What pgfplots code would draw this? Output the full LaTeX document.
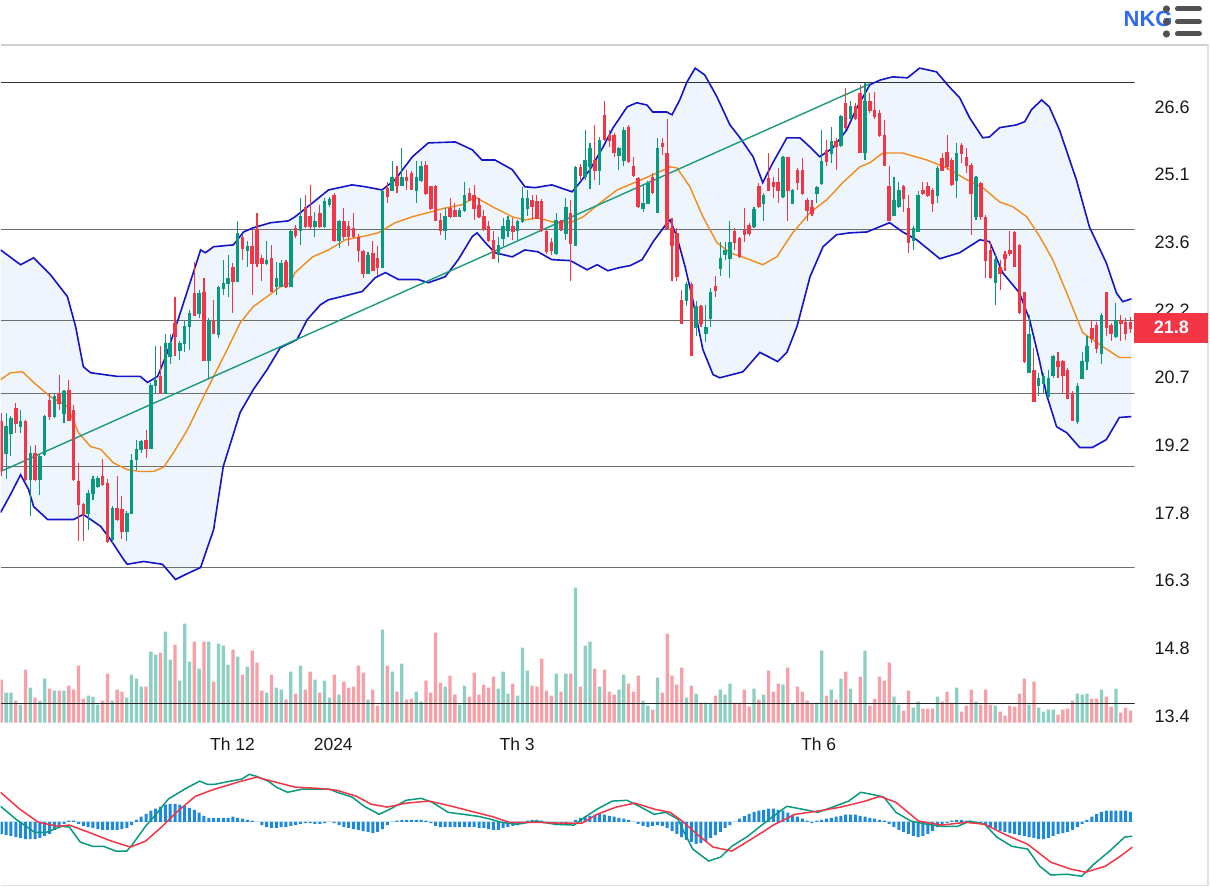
\documentclass[border=0pt]{standalone}
\usepackage{pgfplots}
\pgfplotsset{compat=1.18}
\usepackage{pgfplotstable}
\usepackage{fontspec}
\setmainfont{Liberation Sans}

\definecolor{cgreen}{HTML}{089981}
\definecolor{cred}{HTML}{F23645}
\definecolor{vgreen}{HTML}{8CCFC3}
\definecolor{vred}{HTML}{F7A0A8}
\definecolor{bband}{HTML}{1414C8}
\definecolor{bfill}{HTML}{EEF5FC}
\definecolor{sma}{HTML}{F28A1C}
\definecolor{trend}{HTML}{1A9A7C}
\definecolor{hblue}{HTML}{1E88DC}
\definecolor{nkg}{HTML}{2F6BF0}
\definecolor{lvl}{HTML}{6E6E6E}

\pgfplotstableread{
i O H L C V
0 19.79 19.97 18.60 18.74 43
1 19.10 19.97 18.53 19.68 30
2 19.54 19.90 19.03 19.86 30
3 20.08 20.19 19.54 19.75 22
4 19.68 20.04 19.54 19.79 18
5 19.79 19.82 18.49 18.53 53
6 18.53 19.25 17.73 19.10 35
7 19.10 19.28 18.49 18.53 25
8 18.53 19.07 18.20 19.03 22
9 19.07 19.93 19.03 19.90 44
10 20.26 20.37 19.82 19.90 34
11 19.90 20.37 19.86 20.33 32
12 20.40 20.80 20.04 20.19 32
13 19.97 20.47 19.75 20.44 32
14 20.47 20.69 19.79 19.82 37
15 20.04 20.15 18.49 18.53 33
16 18.49 18.89 17.19 17.99 57
17 17.99 18.02 17.19 17.77 24
18 17.80 18.31 17.44 18.24 27
19 18.24 18.60 18.09 18.53 26
20 18.38 18.61 18.35 18.56 18
21 18.60 18.98 18.38 18.42 22
22 18.45 18.53 17.16 17.19 49
23 17.23 17.95 17.16 17.91 22
24 17.91 18.60 17.62 17.66 33
25 17.88 18.17 17.23 17.41 31
26 17.41 17.84 17.19 17.80 25
27 17.80 19.07 17.77 18.96 48
28 18.96 19.39 18.74 19.18 44
29 19.18 19.39 19.10 19.36 36
30 19.39 19.61 18.99 19.21 36
31 19.21 20.62 19.19 20.58 71
32 20.58 21.41 20.40 20.69 68
33 20.76 21.41 20.39 20.40 70
34 20.40 21.67 20.39 21.49 91
35 21.20 21.67 21.02 21.49 63
36 21.92 22.49 21.20 21.63 78
37 21.34 21.52 21.12 21.49 42
38 21.49 21.99 21.30 21.85 99
39 21.85 22.21 21.34 22.13 61
40 22.57 23.25 22.06 22.10 81
41 22.13 22.64 22.03 22.57 54
42 22.60 22.89 21.09 21.12 81
43 21.12 22.03 20.73 21.99 81
44 21.99 22.42 21.67 21.70 41
45 21.67 22.73 21.59 22.70 79
46 22.67 23.29 22.53 22.78 77
47 22.78 23.40 22.49 22.89 58
48 23.14 23.22 22.13 22.82 73
49 22.82 24.12 22.80 23.86 66
50 23.79 23.83 23.29 23.54 48
51 23.50 23.69 23.14 23.58 56
52 23.58 23.94 22.53 23.22 72
53 23.94 24.30 23.14 23.22 60
54 23.32 23.40 22.82 23.22 32
55 23.22 23.69 23.18 23.29 30
56 23.32 23.61 22.58 22.60 48
57 22.71 23.25 22.53 22.89 35
58 22.71 23.29 22.70 23.22 33
59 23.25 23.29 22.67 22.71 23
60 22.71 23.94 22.70 23.90 51
61 23.97 24.05 23.76 23.83 29
62 23.94 24.62 23.61 24.23 57
63 24.44 24.69 23.97 24.01 33
64 24.23 24.91 23.94 24.01 51
65 24.01 24.33 23.79 24.12 43
66 24.30 24.48 23.97 24.01 30
67 24.01 24.62 23.97 24.57 42
68 24.50 24.64 24.43 24.60 25
69 24.69 24.73 23.68 23.72 48
70 23.72 24.15 23.54 24.12 28
71 24.12 24.41 23.72 23.79 41
72 24.01 24.12 23.58 23.79 35
73 23.97 24.30 23.76 23.79 36
74 23.79 23.85 23.25 23.50 57
75 23.47 23.50 22.89 23.00 50
76 23.01 23.45 22.98 23.40 23
77 23.43 23.69 23.04 23.07 33
78 23.32 23.58 22.93 23.14 17
79 23.14 24.80 23.11 24.77 93
80 24.84 24.98 24.51 24.66 57
81 24.80 25.42 24.77 25.09 51
82 25.09 25.31 24.73 24.91 31
83 24.91 25.70 24.88 25.09 59
84 25.09 25.24 24.80 25.02 23
85 25.16 25.22 24.79 24.82 24
86 24.80 25.42 24.51 25.09 31
87 25.02 25.42 24.98 25.31 21
88 25.34 25.42 24.69 24.73 42
89 24.88 24.89 24.37 24.41 30
90 24.88 24.91 24.12 24.15 90
91 24.15 24.30 23.83 23.94 40
92 23.94 24.41 23.72 24.23 36
93 24.41 24.62 24.19 24.23 47
94 24.36 24.51 24.21 24.23 28
95 24.24 24.41 24.21 24.36 18
96 24.37 24.98 24.33 24.69 37
97 24.73 24.84 24.55 24.59 26
98 24.69 24.91 24.15 24.41 50
99 24.48 24.62 24.19 24.23 28
100 24.23 24.37 23.90 23.97 38
101 24.01 24.12 23.68 23.72 35
102 23.72 23.90 23.30 23.32 46
103 23.40 23.79 23.22 23.61 34
104 23.76 24.19 23.58 24.01 51
105 23.94 24.23 23.79 24.15 29
106 24.01 24.19 23.72 23.90 39
107 23.94 24.15 23.72 24.12 27
108 24.12 24.87 24.08 24.62 75
109 24.41 24.80 24.23 24.62 52
110 24.59 24.69 24.15 24.44 37
111 24.55 24.69 24.17 24.19 36
112 24.57 24.60 23.88 23.92 64
113 23.90 23.94 23.42 23.47 32
114 23.68 23.76 23.40 23.50 27
115 23.43 24.30 23.40 24.15 49
116 24.12 24.15 23.90 23.97 31
117 23.86 24.62 23.72 24.44 49
118 24.30 24.59 22.82 23.65 49
119 23.61 25.32 23.59 25.29 135
120 25.29 25.37 25.00 25.13 36
121 25.09 26.10 25.02 25.45 77
122 25.31 25.81 24.82 25.70 81
123 25.45 26.21 25.02 25.24 54
124 25.24 25.94 24.91 25.89 36
125 26.43 26.72 25.85 25.90 53
126 25.99 26.10 25.73 25.89 31
127 25.99 26.04 25.52 25.63 28
128 25.56 25.73 25.24 25.70 33
129 25.45 26.17 25.31 26.10 48
130 26.17 26.21 25.39 25.42 39
131 25.31 25.52 25.09 25.13 31
132 25.06 25.09 24.41 24.44 47
133 24.41 24.91 24.33 24.51 22
134 24.51 25.00 24.50 24.95 17
135 25.08 25.16 24.72 24.75 13
136 24.33 25.92 24.31 25.70 45
137 25.81 25.92 25.56 25.76 30
138 25.60 26.33 23.94 23.97 89
139 23.97 24.19 22.82 23.61 47
140 23.87 23.97 22.82 22.93 38
141 22.42 22.64 21.90 21.92 55
142 22.42 22.80 22.28 22.77 25
143 22.77 22.80 21.20 21.23 37
144 21.84 22.39 21.63 22.28 29
145 22.29 22.31 21.84 21.92 20
146 21.70 22.31 21.50 21.84 20
147 22.03 22.67 21.84 22.60 19
148 22.71 22.93 22.49 22.63 27
149 23.11 23.68 22.93 23.32 33
150 23.42 23.68 23.29 23.50 28
151 23.32 24.12 22.89 23.68 39
152 23.90 23.97 23.50 23.68 20
153 23.76 23.79 23.32 23.37 20
154 23.94 24.41 23.68 23.85 33
155 24.05 24.08 23.81 23.87 16
156 24.01 24.44 23.97 24.38 34
157 24.88 24.95 24.41 24.44 23
158 24.51 24.73 24.12 24.69 28
159 25.06 25.60 24.77 24.80 52
160 24.98 25.09 24.62 24.88 31
161 24.98 25.27 24.51 24.80 39
162 24.66 25.54 24.62 25.51 38
163 25.51 25.52 24.12 24.80 55
164 24.51 24.82 24.50 24.79 19
165 25.24 25.27 24.80 24.98 36
166 25.24 25.49 24.69 24.73 31
167 24.59 24.62 24.12 24.37 22
168 24.44 24.59 24.23 24.30 19
169 24.73 24.89 24.51 24.86 20
170 24.95 26.10 24.91 25.42 72
171 25.67 25.89 25.31 25.42 27
172 25.60 26.17 25.38 25.85 33
173 25.85 25.92 25.24 25.74 23
174 25.78 26.43 25.73 26.41 44
175 26.68 27.00 26.10 26.17 51
176 26.35 26.72 26.32 26.61 34
177 26.61 26.68 26.32 26.35 19
178 26.90 27.08 25.61 25.63 46
179 25.63 27.11 25.45 26.72 72
180 26.72 26.90 26.46 26.54 17
181 26.54 26.93 26.33 26.39 24
182 26.46 26.54 25.94 25.99 46
183 25.99 26.32 25.31 25.34 42
184 24.89 25.32 24.12 24.15 60
185 24.26 25.09 24.23 24.59 26
186 24.44 24.98 24.41 24.80 18
187 24.88 24.91 24.33 24.62 12
188 24.41 24.69 23.43 23.68 32
189 23.72 24.01 23.50 23.97 15
190 23.90 24.77 23.88 24.69 21
191 24.80 24.98 24.69 24.73 14
192 24.88 24.98 24.64 24.69 14
193 24.80 24.84 24.33 24.51 14
194 24.69 25.32 24.51 25.27 26
195 25.49 25.60 25.20 25.24 21
196 25.63 25.99 25.24 25.31 31
197 25.45 25.49 24.89 24.93 20
198 25.02 25.81 24.62 25.60 35
199 25.78 25.81 25.38 25.60 11
200 25.52 25.70 25.16 25.34 17
201 25.34 25.38 23.83 24.73 33
202 24.23 25.11 24.15 25.08 21
203 24.95 24.98 24.15 24.23 18
204 24.21 24.26 22.89 23.29 33
205 23.50 23.68 22.87 22.91 18
206 22.80 23.39 22.31 23.30 17
207 23.14 23.29 22.64 23.00 11
208 23.42 23.47 23.04 23.32 7
209 23.50 23.90 23.36 23.43 17
210 23.89 23.90 23.14 23.16 16
211 23.61 23.63 22.12 22.15 29
212 22.59 22.60 21.05 21.09 44
213 20.85 22.10 20.83 21.69 18
214 20.91 21.38 20.20 20.22 41
215 20.58 20.83 20.33 20.73 15
216 20.62 20.83 20.40 20.76 11
217 20.33 20.91 20.29 20.73 13
218 20.80 21.23 20.73 21.20 13
219 21.09 21.28 20.73 20.98 8
220 21.09 21.12 20.40 20.80 13
221 20.91 20.94 20.29 20.29 14
222 20.40 20.44 19.81 19.82 22
223 19.79 20.62 19.72 20.56 29
224 20.73 21.30 20.70 21.09 28
225 21.09 21.63 20.91 21.41 29
226 21.81 21.99 21.48 21.59 24
227 21.88 21.95 21.27 21.38 24
228 21.27 22.13 21.02 22.10 33
229 22.59 22.60 21.63 21.84 26
230 21.88 21.92 21.52 21.70 16
231 21.63 22.35 21.59 21.99 34
232 21.99 22.10 21.52 21.92 10
233 21.95 22.02 21.56 21.70 15
234 21.95 22.05 21.70 21.80 12
}\candles

\pgfplotstableread{
i p
-0.15 23.50
4 23.18
6.7 23.33
10.2 22.96
13.7 22.49
15.4 21.84
17 20.97
18.5 20.84
24.1 20.76
28.8 20.76
30.3 20.63
32.4 20.76
34.4 21.28
37.1 22.14
40.2 23.14
41.3 23.50
42.3 23.44
44 23.57
48.1 23.61
50.2 23.89
52.2 23.98
55.8 24.09
59.5 24.13
60.9 24.22
64.5 24.52
67.8 24.80
72.7 24.91
75.4 24.87
78.9 24.80
81.6 25.02
85.2 25.52
88.5 25.82
94.1 25.84
97.6 25.67
99.6 25.45
102.3 25.45
105.9 25.24
108.5 24.87
110.6 24.85
114.1 24.91
118.3 24.76
119.9 24.96
122 25.24
124.7 25.73
126.8 26.15
129.7 26.60
131.7 26.69
133.8 26.64
135 26.49
137.9 26.49
139 26.43
140.6 26.75
142.1 27.14
143.8 27.44
145.8 27.29
148.3 26.82
151 26.21
153.1 25.93
155.8 25.52
157.8 24.96
159.9 25.39
162.8 25.93
165.5 25.93
167.6 25.73
169.6 25.52
172.3 25.71
175.2 26.10
177.3 26.58
180 27.08
182.1 27.18
184.7 27.25
187.8 27.23
190.3 27.44
193.8 27.36
196.5 27.03
198.6 26.80
200.7 26.36
203.4 25.93
204.8 25.95
206.9 26.15
210.4 26.21
212.1 26.28
213.5 26.54
215.6 26.75
217.2 26.60
219.3 26.10
222.8 25.02
225.5 24.00
229 23.22
231.1 22.57
232.4 22.38
234.2 22.44
}\bbup

\pgfplotstableread{
i p
-0.15 17.81
1.9 18.20
4 18.63
5.65 18.31
6.7 17.94
9.6 17.66
15 17.66
17 17.77
20.6 17.51
22.6 17.23
25.3 16.80
26.1 16.69
29.5 16.75
33.4 16.69
36.1 16.36
38.2 16.47
41.3 16.62
44 17.44
46 18.81
49.5 19.98
52.2 20.47
55.1 20.91
57.8 21.38
61.3 21.56
63.4 21.99
66.1 22.31
67.8 22.42
71.3 22.51
74.8 22.60
77.5 22.90
79.6 23.01
82.3 22.86
86.4 22.86
88.5 22.79
92 22.92
94.7 23.29
97.6 23.79
98.6 23.87
100.3 23.66
102.3 23.44
105.9 23.35
108.5 23.50
111.2 23.46
114.1 23.29
117.9 23.27
121.4 23.07
123.5 23.18
125.7 23.05
128.2 23.12
130.3 23.16
132.8 23.29
135.1 23.68
138 24.09
138.6 24.15
140 23.79
141.7 23.14
143.3 22.42
145.4 21.34
147.5 20.80
148.9 20.73
153.7 20.86
157.2 21.28
159.3 21.17
160.9 21.08
162.8 21.28
164.9 21.84
167.6 22.92
170.3 23.57
173.1 23.83
175.8 23.87
179.4 23.89
184.1 24.09
186.8 23.89
189.7 23.72
194.5 23.31
198.6 23.44
202.8 23.72
204.8 23.68
207.5 23.01
211 22.57
213.1 21.99
215.2 21.08
216.6 20.37
218.7 19.67
220.8 19.54
223.5 19.22
226.1 19.22
229 19.39
231.7 19.87
234.2 19.89
}\bblo

\pgfplotstableread{
i p
-0.15 20.69
1.9 20.84
4.4 20.86
6.7 20.63
10.2 20.32
13.7 20.11
16 19.54
18.5 19.24
20.6 19.18
23.2 18.89
26.1 18.74
28.8 18.70
31.5 18.70
33.6 18.79
35.7 19.11
38.6 19.61
41.3 20.19
44 20.76
46.8 21.34
49.5 21.92
52.2 22.27
55.1 22.49
57.8 22.70
59.9 22.79
60.9 23.01
64.5 23.35
67.8 23.50
71.3 23.72
74.8 23.79
78.1 23.87
81.6 24.09
85.2 24.22
88.5 24.31
92 24.41
95.5 24.48
98.2 24.65
101.7 24.44
105.9 24.22
108.5 24.15
111.2 24.20
114.1 24.11
117.9 24.09
120.6 24.22
124.1 24.52
127.6 24.80
131.7 24.98
135.9 25.17
138.6 25.30
140 25.28
142.7 24.87
145.4 24.22
148.3 23.66
151 23.44
155.1 23.29
157.8 23.18
160.7 23.35
164 23.87
167.6 24.31
171.1 24.59
174.4 24.96
177.9 25.30
180 25.39
182.7 25.60
186.8 25.60
191.8 25.45
195.9 25.28
200.1 25.02
203.4 24.85
206.9 24.54
209.6 24.44
212.5 24.22
215.2 23.79
217.9 23.29
220.8 22.57
224.1 21.71
228.2 21.41
231.7 21.17
234.2 21.17
}\bbmid

\pgfplotstableread{
i m
-0.15 0.39
3.0 0.07
6.9 -0.26
9.4 -0.26
12.5 -0.11
14.1 -0.13
16.4 -0.51
18.9 -0.61
21.2 -0.61
23.7 -0.73
26.0 -0.73
27.2 -0.56
29.9 -0.11
32.4 0.24
34.6 0.57
38.0 0.82
41.1 1.02
42.7 0.94
44.2 0.94
47.5 1.02
49.8 1.07
51.4 1.19
52.9 1.14
55.3 1.02
57.0 0.87
59.3 0.74
62.4 0.82
65.7 0.82
68.0 0.82
69.6 0.74
72.7 0.62
75.2 0.39
78.3 0.19
80.6 0.32
83.9 0.54
87.0 0.59
89.3 0.49
92.6 0.24
95.7 0.19
98.8 0.14
101.3 0.07
103.6 -0.01
106.9 -0.06
110.8 0.02
114.8 -0.06
118.7 -0.08
121.2 0.14
123.5 0.32
126.6 0.52
129.7 0.54
132.2 0.39
135.3 0.19
137.7 0.24
140.2 0.07
141.5 -0.26
143.3 -0.68
146.6 -0.98
149.1 -0.88
151.4 -0.61
154.7 -0.36
157.8 -0.06
161.1 0.24
162.8 0.39
165.9 0.32
169.2 0.24
172.3 0.37
175.6 0.52
178.1 0.74
180.4 0.69
182.9 0.62
185.4 0.24
188.5 0.02
191.8 -0.06
194.9 -0.11
198.2 -0.11
200.7 0.02
203.8 -0.06
206.3 -0.38
209.4 -0.61
212.7 -0.68
215.2 -1.11
217.5 -1.33
220.8 -1.31
223.9 -1.36
226.4 -1.06
229.7 -0.73
232.8 -0.38
234.4 -0.36
}\macdline

\pgfplotstableread{
i s
-0.15 0.74
3.8 0.32
7.7 -0.01
11.7 -0.11
14.1 -0.08
18.1 -0.26
22.8 -0.48
26.8 -0.63
29.9 -0.48
33.2 -0.13
36.3 0.24
40.2 0.64
44.2 0.82
48.9 0.99
52.9 1.12
57.0 0.99
60.9 0.87
65.7 0.84
69.6 0.79
73.6 0.64
76.7 0.44
80.0 0.37
83.9 0.47
88.7 0.52
93.4 0.39
98.2 0.24
102.1 0.12
105.2 -0.01
110.8 -0.01
115.6 -0.03
120.4 -0.03
123.5 0.19
127.4 0.37
131.3 0.47
135.3 0.32
138.6 0.24
141.1 0.02
144.2 -0.31
147.5 -0.63
151.4 -0.73
156.4 -0.36
160.3 -0.06
164.5 0.19
169.2 0.27
174.0 0.37
179.0 0.52
182.1 0.64
185.4 0.49
190.1 0.02
194.9 -0.08
199.9 -0.01
203.8 -0.06
207.9 -0.31
212.7 -0.56
217.5 -1.01
221.6 -1.18
224.7 -1.26
228.8 -1.11
231.9 -0.86
234.4 -0.63
}\signalline

\pgfplotstableread{
i h
0 -0.30
1 -0.33
2 -0.35
3 -0.38
4 -0.40
5 -0.43
6 -0.43
7 -0.43
8 -0.40
9 -0.35
10 -0.30
11 -0.20
12 -0.13
13 -0.05
14 0.03
15 0.03
16 -0.05
17 -0.10
18 -0.13
19 -0.15
20 -0.18
21 -0.20
22 -0.20
23 -0.20
24 -0.20
25 -0.18
26 -0.15
27 -0.08
28 0.05
29 0.13
30 0.20
31 0.28
32 0.33
33 0.38
34 0.43
35 0.45
36 0.45
37 0.43
38 0.40
39 0.35
40 0.30
41 0.23
42 0.15
43 0.10
44 0.10
45 0.10
46 0.10
47 0.10
48 0.13
49 0.10
50 0.08
51 0.05
52 0.03
53 0.00
54 -0.08
55 -0.13
56 -0.15
57 -0.15
58 -0.13
59 -0.13
60 -0.10
61 -0.08
62 -0.05
63 -0.03
64 -0.03
65 -0.05
66 -0.05
67 -0.03
68 0.00
69 -0.03
70 -0.08
71 -0.13
72 -0.15
73 -0.18
74 -0.20
75 -0.23
76 -0.25
77 -0.28
78 -0.25
79 -0.18
80 -0.08
81 0.00
82 0.03
83 0.05
84 0.05
85 0.05
86 0.05
87 0.05
88 0.03
89 -0.03
90 -0.10
91 -0.13
92 -0.13
93 -0.13
94 -0.13
95 -0.13
96 -0.13
97 -0.13
98 -0.13
99 -0.15
100 -0.15
101 -0.18
102 -0.20
103 -0.20
104 -0.15
105 -0.13
106 -0.10
107 -0.08
108 -0.03
109 0.03
110 0.05
111 0.05
112 0.03
113 -0.03
114 -0.05
115 -0.08
116 -0.08
117 -0.05
118 0.00
119 0.05
120 0.10
121 0.13
122 0.15
123 0.18
124 0.20
125 0.18
126 0.15
127 0.13
128 0.10
129 0.08
130 0.05
131 0.00
132 -0.05
133 -0.10
134 -0.13
135 -0.10
136 -0.08
137 -0.10
138 -0.15
139 -0.23
140 -0.30
141 -0.38
142 -0.45
143 -0.50
144 -0.55
145 -0.53
146 -0.48
147 -0.40
148 -0.33
149 -0.25
150 -0.15
151 -0.08
152 0.00
153 0.08
154 0.15
155 0.20
156 0.25
157 0.28
158 0.30
159 0.33
160 0.33
161 0.30
162 0.28
163 0.23
164 0.18
165 0.13
166 0.08
167 0.03
168 -0.03
169 0.03
170 0.05
171 0.08
172 0.10
173 0.13
174 0.15
175 0.18
176 0.18
177 0.18
178 0.15
179 0.13
180 0.10
181 0.08
182 0.05
183 0.03
184 -0.05
185 -0.13
186 -0.20
187 -0.25
188 -0.30
189 -0.35
190 -0.38
191 -0.35
192 -0.30
193 -0.23
194 -0.13
195 -0.08
196 -0.03
197 0.03
198 0.05
199 0.05
200 0.03
201 0.00
202 -0.03
203 -0.05
204 -0.08
205 -0.13
206 -0.18
207 -0.23
208 -0.25
209 -0.28
210 -0.30
211 -0.33
212 -0.35
213 -0.38
214 -0.40
215 -0.43
216 -0.43
217 -0.40
218 -0.35
219 -0.30
220 -0.28
221 -0.25
222 -0.20
223 -0.13
224 -0.05
225 0.05
226 0.13
227 0.20
228 0.25
229 0.28
230 0.28
231 0.28
232 0.28
233 0.28
234 0.25
}\histtab

\pgfplotsset{base/.style={scale only axis, width=1135pt, xmin=-0.145, xmax=234.845,
  axis line style={draw=none}, major tick length=0pt, tick style={draw=none},
  xtick=\empty, ytick=\empty, anchor=south west},
  candle/.style={only marks, mark=*, mark size=0.01pt, mark options={draw opacity=0, fill opacity=0},
  error bars/.cd, y dir=minus, y explicit, error mark=none}}
\tikzset{ylab/.style={anchor=west, inner sep=0pt, xshift=20pt, font=\fontsize{18}{20}\selectfont, text=black!90},
  xlab/.style={anchor=base, inner sep=0pt, yshift=-21.5pt, font=\fontsize{17.5}{20}\selectfont, text=black!90}}

\begin{document}
\begin{tikzpicture}[x=1pt,y=1pt]
\fill[white] (0pt,0pt) rectangle (1210pt,888pt);

% price
\begin{axis}[base, at={(0pt,158pt)}, height=685pt, ymin=13.115, ymax=27.942, clip mode=individual]
\addplot[fill=bfill, draw=none] table[x=i, y=p] \bbup \closedcycle;
\addplot[fill=white, draw=none] table[x=i, y=p] \bblo \closedcycle;
\addplot[black!80, line width=1.2pt] coordinates {(-0.145,27.12) (234.845,27.12)};
\addplot[lvl, line width=1.2pt] coordinates {(-0.145,23.95) (234.845,23.95)};
\addplot[lvl, line width=1.2pt] coordinates {(-0.145,21.98) (234.845,21.98)};
\addplot[lvl, line width=1.2pt] coordinates {(-0.145,20.39) (234.845,20.39)};
\addplot[lvl, line width=1.2pt] coordinates {(-0.145,18.81) (234.845,18.81)};
\addplot[lvl, line width=1.2pt] coordinates {(-0.145,16.62) (234.845,16.62)};
\addplot[bband, line width=1.6pt] table[x=i, y=p] \bbup;
\addplot[bband, line width=1.6pt] table[x=i, y=p] \bblo;
\addplot[sma, line width=1.4pt] table[x=i, y=p] \bbmid;
\addplot[trend, line width=1.4pt] coordinates {(-0.145,18.70) (180,27.10)};
% wicks (low to high)
\addplot[candle, error bar style={cgreen, line width=1.1pt}]
  table[x=i, y expr={\thisrow{C}<\thisrow{O} ? nan : \thisrow{H}}, y error minus expr={\thisrow{H}-\thisrow{L}}] \candles;
\addplot[candle, error bar style={cred, line width=1.1pt}]
  table[x=i, y expr={\thisrow{C}<\thisrow{O} ? \thisrow{H} : nan}, y error minus expr={\thisrow{H}-\thisrow{L}}] \candles;
% bodies (open to close)
\addplot[candle, error bar style={cgreen, line width=3.5pt}]
  table[x=i, y expr={\thisrow{C}<\thisrow{O} ? nan : \thisrow{C}}, y error minus expr={\thisrow{C}-\thisrow{O}+0.02}] \candles;
\addplot[candle, error bar style={cred, line width=3.5pt}]
  table[x=i, y expr={\thisrow{C}<\thisrow{O} ? \thisrow{O} : nan}, y error minus expr={\thisrow{O}-\thisrow{C}+0.02}] \candles;
% price scale labels
\node[ylab] at (axis cs:234.845,26.6) {26.6};
\node[ylab] at (axis cs:234.845,25.133) {25.1};
\node[ylab] at (axis cs:234.845,23.667) {23.6};
\node[ylab] at (axis cs:234.845,22.2) {22.2};
\node[ylab] at (axis cs:234.845,20.733) {20.7};
\node[ylab] at (axis cs:234.845,19.267) {19.2};
\node[ylab] at (axis cs:234.845,17.8) {17.8};
\node[ylab] at (axis cs:234.845,16.333) {16.3};
\node[ylab] at (axis cs:234.845,14.867) {14.8};
\node[ylab] at (axis cs:234.845,13.4) {13.4};
% date labels
\node[xlab] at (axis cs:47.9,13.115) {Th 12};
\node[xlab] at (axis cs:68.8,13.115) {2024};
\node[xlab] at (axis cs:106.9,13.115) {Th 3};
\node[xlab] at (axis cs:169.4,13.115) {Th 6};
\end{axis}

% volume
\begin{axis}[base, at={(0pt,158pt)}, height=685pt, ymin=-6.7, ymax=678.3]
\addplot[ybar, bar width=3.3pt, fill=vgreen, draw=none] table[x=i, y expr={\thisrow{C}<\thisrow{O} ? nan : \thisrow{V}}] \candles;
\addplot[ybar, bar width=3.3pt, fill=vred, draw=none] table[x=i, y expr={\thisrow{C}<\thisrow{O} ? \thisrow{V} : nan}] \candles;
\addplot[black!85, line width=1pt] coordinates {(-0.145,19) (234.845,19)};
\end{axis}

% MACD
\begin{axis}[base, at={(0pt,3pt)}, height=125pt, ymin=-1.5575, ymax=1.5675]
\addplot[hblue!20, line width=0.8pt] coordinates {(-0.145,0) (234.845,0)};
\addplot[ybar, bar width=3pt, fill=hblue, draw=none] table[x=i, y=h] \histtab;
\addplot[cgreen, line width=1.5pt] table[x=i, y=m] \macdline;
\addplot[cred, line width=1.5pt] table[x=i, y=s] \signalline;
\end{axis}

% frame
\draw[black!18, line width=1.2pt] (0pt,843pt) -- (1210pt,843pt);
\draw[black!12, line width=1.2pt] (0pt,2pt) -- (1210pt,2pt);
\draw[black!12, line width=1.2pt] (1208.5pt,2pt) -- (1208.5pt,843pt);

% last price tag
\fill[cred] (1135pt,545pt) rectangle (1209pt,575pt);
\node[text=white, font=\bfseries\fontsize{18}{20}\selectfont, inner sep=0pt] at (1172pt,560pt) {21.8};

% symbol and menu
\node[anchor=base west, inner sep=0pt, text=nkg, font=\bfseries\fontsize{22}{24}\selectfont] at (1124pt,861pt) {NKG};
\fill[black!68] (1167pt,879pt) circle (3.6pt);
\fill[black!68] (1167pt,866pt) circle (3.6pt);
\fill[black!68] (1167pt,854pt) circle (3.6pt);
\draw[black!68, line width=5pt, line cap=round] (1178pt,879pt) -- (1200pt,879pt);
\draw[black!68, line width=5pt, line cap=round] (1178pt,866pt) -- (1200pt,866pt);
\draw[black!68, line width=5pt, line cap=round] (1178pt,854pt) -- (1200pt,854pt);
\end{tikzpicture}
\end{document}
